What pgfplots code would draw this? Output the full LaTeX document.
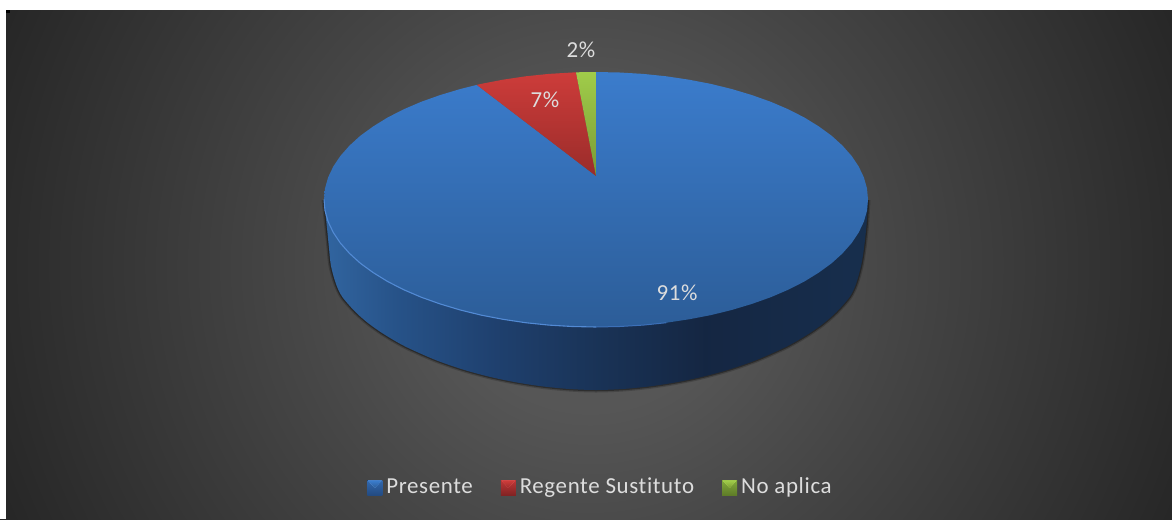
\documentclass[border=0pt]{standalone}
\usepackage{fontspec}
\setmainfont{Carlito}[LetterSpace=2.8,Ligatures=NoCommon]
\usepackage{pgfplots}
\usepackage{pgfplotstable}
\pgfplotsset{compat=1.18}

\definecolor{labeltext}{HTML}{DDDDDD}
% background: circular, 25bp = 640 px
\pgfdeclareradialshading{bgshade}{\pgfpoint{0bp}{0bp}}{
  color(0bp)=(black!64); color(5.9bp)=(black!66.5); color(11.7bp)=(black!72.5);
  color(25bp)=(black!85); color(50bp)=(black!85)}
% pie wall, left to right
\pgfdeclarehorizontalshading{sideshade}{100bp}{
  rgb(0bp)=(.19,.39,.62); rgb(25.5bp)=(.19,.39,.62); rgb(32bp)=(.15,.32,.53);
  rgb(41bp)=(.12,.25,.43); rgb(50bp)=(.10,.20,.34); rgb(60bp)=(.08,.15,.26);
  rgb(74bp)=(.09,.18,.30); rgb(100bp)=(.09,.18,.30)}

% outer edge of the wall
\pgfplotstableread{
x y
324 200
327 228
329 248
331 266
336 284
342.3 296.9
355.7 312.2
369.0 323.8
382.4 333.2
395.7 341.3
409.1 348.4
435.8 360.1
462.5 369.4
489.2 376.7
515.9 382.3
542.6 386.4
569.3 389.0
596.0 390.0
622.7 389.0
649.4 386.4
676.1 382.3
702.8 376.7
729.5 369.4
756.2 360.1
782.9 348.4
796.3 341.3
809.6 333.2
823.0 323.8
836.3 312.2
849.7 296.9
856 284
861 266
864 248
866.5 225
868 200
}\walledge

% front edge of the top face, left half
\pgfplotstableread{
x y
324.0 199.5
325.0 210.6
328.1 221.6
333.3 232.5
340.4 243.1
349.5 253.4
360.4 263.3
373.2 272.6
387.6 281.5
403.7 289.7
421.2 297.2
440.0 303.9
460.0 309.9
481.0 315.1
503.0 319.3
525.6 322.7
548.8 325.1
572.3 326.5
596.0 327.0
}\rimleft

\definecolor{bluelo}{RGB}{35,75,130}\definecolor{bluehi}{RGB}{50,105,175}\definecolor{bluetip}{RGB}{125,175,240}
\definecolor{redlo}{RGB}{130,35,35}\definecolor{redhi}{RGB}{190,55,55}\definecolor{redtip}{RGB}{245,115,115}
\definecolor{greenlo}{RGB}{95,125,40}\definecolor{greenhi}{RGB}{130,170,60}\definecolor{greentip}{RGB}{205,238,105}

\newcommand{\legendmark}[3]{%
  \fill[top color=#2, bottom color=#1] (0bp,-7.5bp) rectangle (15bp,7.5bp);
  \fill[#3] (0.8bp,6.8bp) -- (14.2bp,6.8bp) -- (7.5bp,-0.5bp) -- cycle;}

\begin{document}
\begin{tikzpicture}
\begin{axis}[
  scale only axis,
  width=1172bp, height=519bp,
  xmin=0, xmax=1172, ymin=0, ymax=519,
  y dir=reverse,
  hide axis,
  legend columns=3,
  legend cell align=left,
  legend style={
    at={(axis cs:600.5,487.5)}, anchor=center,
    draw=none, fill=none, text=labeltext,
    font=\fontsize{23}{27}\selectfont,
    nodes={text height=16bp, text depth=5bp},
    /tikz/every even column/.append style={column sep=26bp},
  },
]

% background and white margin
\begin{scope}
  \clip (axis cs:0,0) rectangle (axis cs:1172,519);
  \path[overlay, shading=bgshade] (axis cs:-50,-375) rectangle (axis cs:1230,905);
\end{scope}
\addplot[fill=white, draw=none, forget plot] coordinates {(0,0) (6,0) (6,519) (0,519)} --cycle;
\addplot[fill=white, draw=none, forget plot] coordinates {(0,0) (1172,0) (1172,10) (0,10)} --cycle;
\addplot[fill=black, draw=none, forget plot] coordinates {(6,10) (10,10) (10,13) (6,13)} --cycle;

% shadow under the wall
\addplot[smooth, draw=black, opacity=.18, line width=5bp, forget plot] table {\walledge};
\addplot[smooth, draw=black, opacity=.35, line width=2.5bp, forget plot] table {\walledge};

% wall; its top is hidden by the top face
\addplot[smooth, shading=sideshade, draw=none, forget plot] table {\walledge};

% Presente 91
\addplot[top color={rgb,255:red,59;green,124;blue,204}, bottom color={rgb,255:red,44;green,93;blue,152}, draw=none,
  legend image code/.code={\legendmark{bluelo}{bluehi}{bluetip}}]
coordinates {
  (596.0,176.0) (596.0,72.0) (619.7,72.5) (643.2,73.9) (666.4,76.3) (689.0,79.7) (711.0,83.9)
  (732.0,89.1) (752.0,95.1) (770.8,101.8) (788.3,109.3) (804.4,117.5) (818.8,126.4)
  (831.6,135.7) (842.5,145.6) (851.6,155.9) (858.7,166.5) (863.9,177.4) (867.0,188.4)
  (868.0,199.5) (867.0,210.6) (863.9,221.6) (858.7,232.5) (851.6,243.1) (842.5,253.4)
  (831.6,263.3) (818.8,272.6) (804.4,281.5) (788.3,289.7) (770.8,297.2) (752.0,303.9)
  (732.0,309.9) (711.0,315.1) (689.0,319.3) (666.4,322.7) (643.2,325.1) (619.7,326.5)
  (596.0,327.0) (572.3,326.5) (548.8,325.1) (525.6,322.7) (503.0,319.3) (481.0,315.1)
  (460.0,309.9) (440.0,303.9) (421.2,297.2) (403.7,289.7) (387.6,281.5) (373.2,272.6)
  (360.4,263.3) (349.5,253.4) (340.4,243.1) (333.3,232.5) (328.1,221.6) (325.0,210.6)
  (324.0,199.5) (325.0,188.4) (328.1,177.4) (333.3,166.5) (340.4,155.9) (349.5,145.6)
  (360.4,135.7) (373.2,126.4) (387.6,117.5) (403.7,109.3) (421.2,101.8) (440.0,95.1)
  (460.0,89.1) (476.8,84.9)} --cycle;
\addlegendentry{\hspace{2bp}Presente}

% Regente Sustituto 7
\addplot[top color={rgb,255:red,205;green,60;blue,58}, bottom color={rgb,255:red,154;green,44;blue,42}, draw=none,
  legend image code/.code={\legendmark{redlo}{redhi}{redtip}}]
coordinates {
  (596.0,176.0) (476.8,84.9) (481.0,83.9) (503.0,79.7) (525.6,76.3) (548.8,73.9)
  (572.3,72.5) (576.0,72.3)} --cycle;
\addlegendentry{\hspace{2bp}Regente Sustituto}

% No aplica 2
\addplot[top color={rgb,255:red,160;green,204;blue,74}, bottom color={rgb,255:red,122;green,155;blue,52}, draw=none,
  legend image code/.code={\legendmark{greenlo}{greenhi}{greentip}}]
coordinates {(596.0,176.0) (576.0,72.3) (596.0,72.0)} --cycle;
\addlegendentry{\hspace{2bp}No aplica}

% light front edge
\addplot[draw={rgb,255:red,82;green,138;blue,212}, line width=1.1bp, forget plot] table {\rimleft};
\addplot[draw={rgb,255:red,60;green,112;blue,184}, line width=1bp, forget plot] coordinates {
  (596.0,327.0) (619.7,326.5) (643.2,325.1) (666.4,322.7)};

\node[text=labeltext, font=\fontsize{23}{27}\selectfont] at (axis cs:581,50) {2\%};
\node[text=labeltext, font=\fontsize{23}{27}\selectfont] at (axis cs:545,99.5) {7\%};
\node[text=labeltext, font=\fontsize{23}{27}\selectfont] at (axis cs:677,293) {91\%};
\end{axis}
\end{tikzpicture}
\end{document}
